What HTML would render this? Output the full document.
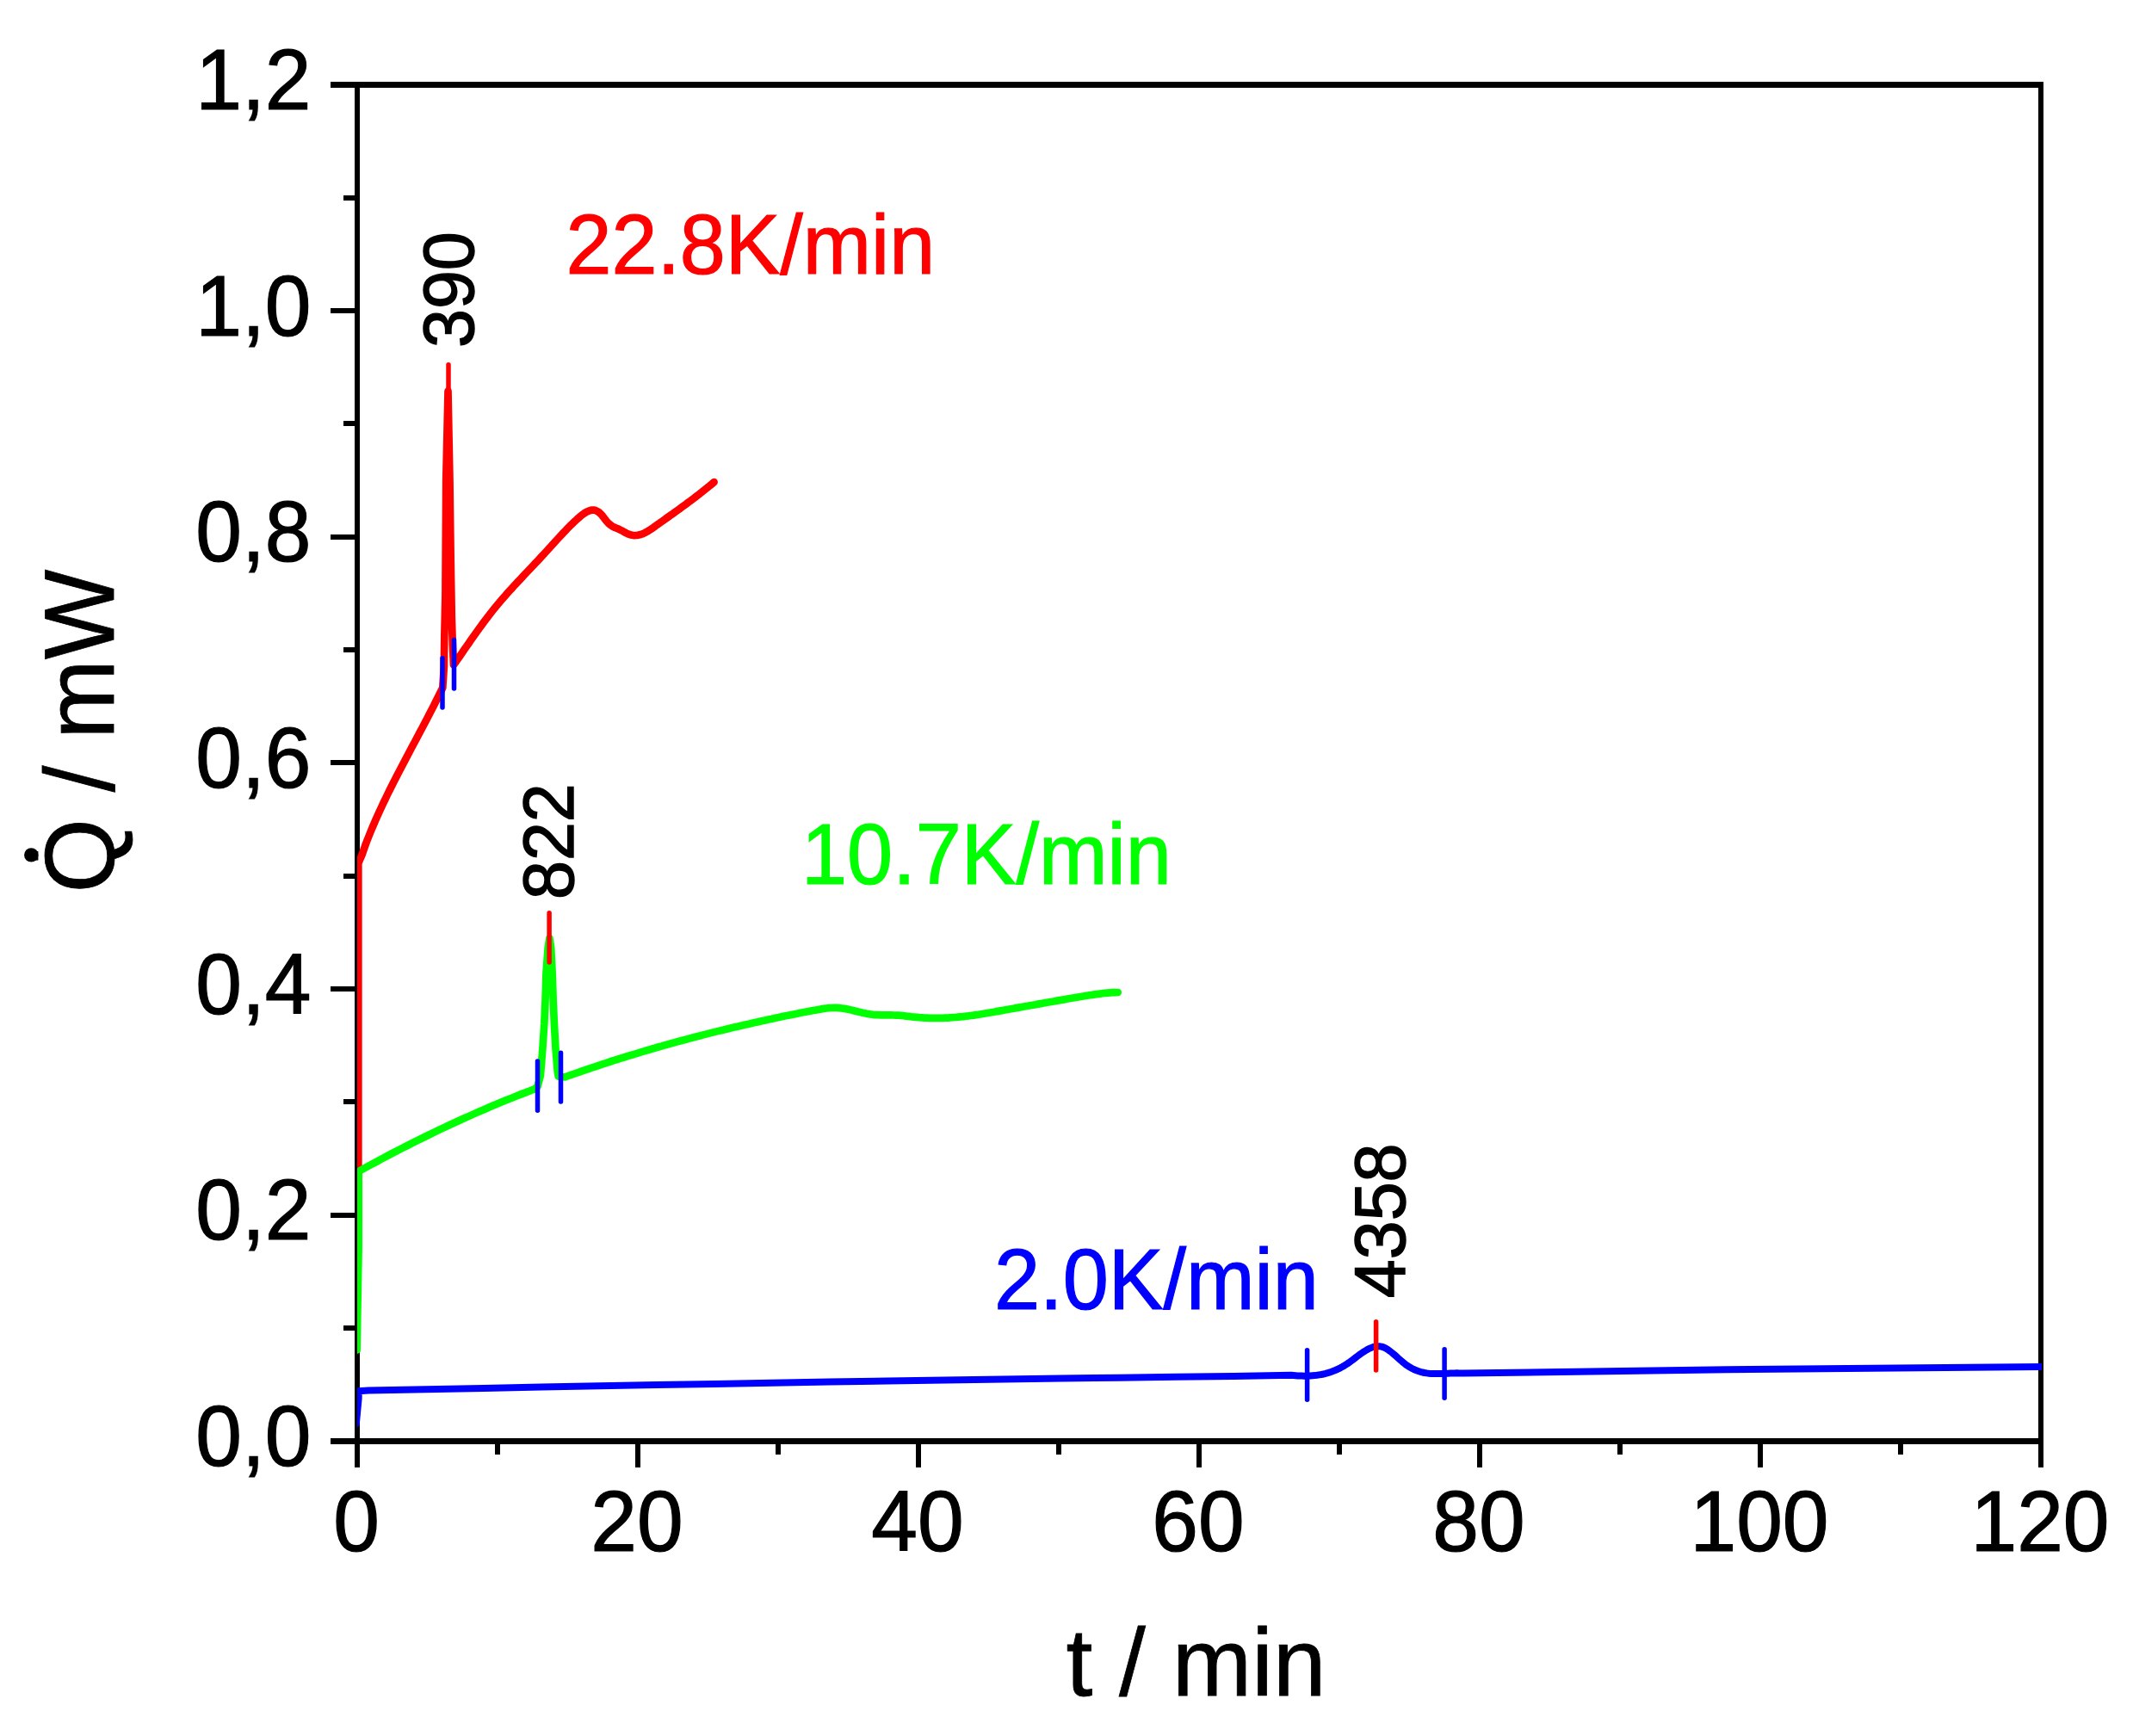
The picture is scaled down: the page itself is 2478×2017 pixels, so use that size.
<!DOCTYPE html>
<html lang="en"><head><meta charset="utf-8"><title>Heat flow vs. time at three heating rates</title>
<style>html,body{margin:0;padding:0;background:#fff;}body{width:2478px;height:2017px;overflow:hidden;}svg{display:block;}text{font-family:"Liberation Sans", Arial, Helvetica, sans-serif;}</style></head><body>
<svg width="2478" height="2017" viewBox="0 0 2478 2017">
<rect x="0" y="0" width="2478" height="2017" fill="#ffffff"/>
<defs><clipPath id="plot"><rect x="415" y="98" width="1957" height="1577"/></clipPath></defs>
<g fill="#000" shape-rendering="crispEdges">
<rect x="412" y="95" width="6" height="1610"/>
<rect x="2368" y="95" width="6" height="1610"/>
<rect x="384" y="95" width="1990" height="7"/>
<rect x="384" y="1671" width="1990" height="7"/>
<rect x="399" y="1540" width="15" height="6"/>
<rect x="384" y="1409" width="30" height="6"/>
<rect x="399" y="1277" width="15" height="6"/>
<rect x="384" y="1146" width="30" height="6"/>
<rect x="399" y="1015" width="15" height="6"/>
<rect x="384" y="883" width="30" height="6"/>
<rect x="399" y="752" width="15" height="6"/>
<rect x="384" y="621" width="30" height="6"/>
<rect x="399" y="489" width="15" height="6"/>
<rect x="384" y="358" width="30" height="6"/>
<rect x="399" y="227" width="15" height="6"/>
<rect x="575" y="1675" width="6" height="15"/>
<rect x="738" y="1675" width="6" height="30"/>
<rect x="901" y="1675" width="6" height="15"/>
<rect x="1064" y="1675" width="6" height="30"/>
<rect x="1227" y="1675" width="6" height="15"/>
<rect x="1390" y="1675" width="6" height="30"/>
<rect x="1553" y="1675" width="6" height="15"/>
<rect x="1716" y="1675" width="6" height="30"/>
<rect x="1879" y="1675" width="6" height="15"/>
<rect x="2042" y="1675" width="6" height="30"/>
<rect x="2205" y="1675" width="6" height="15"/>
</g>
<text transform="translate(361.5,1702.8) scale(1,1.03)" font-size="96.5" text-anchor="end" fill="#000" stroke="#000" stroke-width="1.2">0,0</text>
<text transform="translate(361.5,1440.1) scale(1,1.03)" font-size="96.5" text-anchor="end" fill="#000" stroke="#000" stroke-width="1.2">0,2</text>
<text transform="translate(361.5,1177.5) scale(1,1.03)" font-size="96.5" text-anchor="end" fill="#000" stroke="#000" stroke-width="1.2">0,4</text>
<text transform="translate(361.5,914.8) scale(1,1.03)" font-size="96.5" text-anchor="end" fill="#000" stroke="#000" stroke-width="1.2">0,6</text>
<text transform="translate(361.5,652.1) scale(1,1.03)" font-size="96.5" text-anchor="end" fill="#000" stroke="#000" stroke-width="1.2">0,8</text>
<text transform="translate(361.5,389.5) scale(1,1.03)" font-size="96.5" text-anchor="end" fill="#000" stroke="#000" stroke-width="1.2">1,0</text>
<text transform="translate(361.5,126.8) scale(1,1.03)" font-size="96.5" text-anchor="end" fill="#000" stroke="#000" stroke-width="1.2">1,2</text>
<text transform="translate(414.0,1802.0) scale(1,1.03)" font-size="96.5" text-anchor="middle" fill="#000" stroke="#000" stroke-width="1.2">0</text>
<text transform="translate(740.0,1802.0) scale(1,1.03)" font-size="96.5" text-anchor="middle" fill="#000" stroke="#000" stroke-width="1.2">20</text>
<text transform="translate(1066.0,1802.0) scale(1,1.03)" font-size="96.5" text-anchor="middle" fill="#000" stroke="#000" stroke-width="1.2">40</text>
<text transform="translate(1392.0,1802.0) scale(1,1.03)" font-size="96.5" text-anchor="middle" fill="#000" stroke="#000" stroke-width="1.2">60</text>
<text transform="translate(1718.0,1802.0) scale(1,1.03)" font-size="96.5" text-anchor="middle" fill="#000" stroke="#000" stroke-width="1.2">80</text>
<text transform="translate(2044.0,1802.0) scale(1,1.03)" font-size="96.5" text-anchor="middle" fill="#000" stroke="#000" stroke-width="1.2">100</text>
<text transform="translate(2370.0,1802.0) scale(1,1.03)" font-size="96.5" text-anchor="middle" fill="#000" stroke="#000" stroke-width="1.2">120</text>
<text transform="translate(1389.5,1969.6) scale(1,1.01)" font-size="111" text-anchor="middle" fill="#000" stroke="#000" stroke-width="0.8">t / min</text>
<text transform="translate(131.6,849.5) rotate(-90) scale(1,1.035)" font-size="111" text-anchor="middle" fill="#000" stroke="#000" stroke-width="0.8">Q&#775; / mW</text>
<circle cx="36.3" cy="993.4" r="8.2" fill="#000"/>
<g clip-path="url(#plot)" fill="none" stroke-linejoin="round" stroke-linecap="round">
<polyline stroke="#ff0000" stroke-width="8.7" points="416.3,1420.0 416.3,1003.0 420.4,993.5 421.8,989.5 423.2,985.5 424.6,981.5 426.1,977.5 427.7,973.5 429.3,969.5 430.9,965.5 432.6,961.5 434.3,957.5 436.0,953.5 437.8,949.5 439.6,945.5 441.4,941.5 443.3,937.5 445.1,933.5 447.1,929.5 449.0,925.5 450.9,921.5 452.9,917.5 454.9,913.5 456.9,909.5 459.0,905.5 461.0,901.5 463.1,897.5 465.2,893.5 467.3,889.5 469.4,885.5 471.5,881.5 473.6,877.5 475.7,873.5 477.8,869.5 479.9,865.5 482.1,861.5 484.2,857.5 486.3,853.5 488.4,849.5 490.6,845.5 492.7,841.5 494.8,837.5 496.9,833.5 498.9,829.5 501.0,825.5 503.1,821.5 505.1,817.5 507.1,813.5 509.1,809.5 511.1,805.5 513.1,801.5 514.3,799.0 515.9,774.0 516.3,740.8 517.4,691.0 518.2,558.0 520.5,454.5 522.5,558.0 523.7,650.0 524.8,717.0 525.8,748.0 527.0,772.5 529.5,769.1 532.0,765.5 534.5,761.9 537.0,758.2 539.5,754.6 542.0,751.0 544.5,747.4 547.0,743.8 549.5,740.2 552.0,736.7 554.5,733.2 557.0,729.7 559.5,726.3 562.0,722.9 564.5,719.6 567.0,716.3 569.5,713.1 572.0,709.9 574.5,706.8 577.0,703.8 579.5,700.8 582.0,697.8 584.5,694.9 587.0,692.1 589.5,689.2 592.0,686.4 594.5,683.7 597.0,680.9 599.5,678.2 602.0,675.5 604.5,672.9 607.0,670.2 609.5,667.6 612.0,664.9 614.5,662.3 617.0,659.6 619.5,657.0 622.0,654.3 624.5,651.7 627.0,649.0 629.5,646.3 632.0,643.6 634.5,640.9 637.0,638.1 639.5,635.4 642.0,632.6 644.5,629.8 647.0,627.1 649.5,624.4 652.0,621.7 654.5,619.0 657.0,616.4 659.5,613.8 662.0,611.2 664.5,608.8 667.0,606.4 669.5,604.1 672.0,601.8 674.5,599.7 677.0,597.7 679.5,595.9 682.0,594.5 684.5,593.4 687.0,592.7 689.5,592.6 692.0,593.1 694.5,594.3 697.0,596.2 699.5,598.8 702.0,602.1 704.5,605.4 707.0,608.1 709.5,610.2 712.0,611.8 714.5,613.0 717.0,614.0 719.5,615.1 722.0,616.3 724.5,617.7 727.0,619.1 729.5,620.3 732.0,621.2 734.5,621.8 737.0,622.1 739.5,622.0 742.0,621.6 744.5,621.0 747.0,620.1 749.5,618.9 752.0,617.5 754.5,616.0 757.0,614.3 759.5,612.6 762.0,610.8 764.5,609.0 767.0,607.2 769.5,605.5 772.0,603.7 774.5,601.9 777.0,600.1 779.5,598.3 782.0,596.6 784.5,594.8 787.0,593.0 789.5,591.2 792.0,589.3 794.5,587.5 797.0,585.7 799.5,583.8 802.0,582.0 804.5,580.1 807.0,578.2 809.5,576.3 812.0,574.4 814.5,572.4 817.0,570.4 819.5,568.4 822.0,566.4 824.5,564.4 827.0,562.3 829.5,560.2 829.6,560.1"/>
<polyline stroke="#00ff00" stroke-width="8.7" points="414.6,1568.6 416.6,1450.0 416.6,1361.0 425.3,1356.2 431.3,1353.0 437.3,1349.8 443.3,1346.5 449.3,1343.4 455.3,1340.2 461.3,1337.1 467.3,1334.0 473.3,1331.0 479.3,1327.9 485.3,1324.9 491.3,1322.0 497.3,1319.0 503.3,1316.1 509.3,1313.2 515.3,1310.4 521.3,1307.5 527.3,1304.8 533.3,1302.0 539.3,1299.3 545.3,1296.6 551.3,1293.9 557.3,1291.3 563.3,1288.7 569.3,1286.1 575.3,1283.6 581.3,1281.1 587.3,1278.6 593.3,1276.2 599.3,1273.8 605.3,1271.4 611.3,1269.1 617.3,1266.8 620.4,1265.6 624.5,1262.5 627.9,1249.6 630.3,1219.7 632.3,1189.7 633.6,1159.8 634.5,1129.8 636.6,1102.0 638.4,1090.0 640.2,1102.0 641.6,1129.8 642.6,1159.8 643.9,1189.7 645.6,1219.7 647.7,1245.0 648.7,1250.6 656.9,1251.3 660.9,1249.8 664.9,1248.4 668.9,1247.0 672.9,1245.6 676.9,1244.2 680.9,1242.8 684.9,1241.5 688.9,1240.1 692.9,1238.8 696.9,1237.5 700.9,1236.1 704.9,1234.8 708.9,1233.5 712.9,1232.2 716.9,1231.0 720.9,1229.7 724.9,1228.5 728.9,1227.2 732.9,1226.0 736.9,1224.8 740.9,1223.6 744.9,1222.4 748.9,1221.2 752.9,1220.0 756.9,1218.8 760.9,1217.7 764.9,1216.5 768.9,1215.4 772.9,1214.2 776.9,1213.1 780.9,1212.0 784.9,1210.9 788.9,1209.8 792.9,1208.7 796.9,1207.7 800.9,1206.6 804.9,1205.5 808.9,1204.5 812.9,1203.5 816.9,1202.4 820.9,1201.4 824.9,1200.4 828.9,1199.4 832.9,1198.4 836.9,1197.4 840.9,1196.5 844.9,1195.5 848.9,1194.5 852.9,1193.6 856.9,1192.7 860.9,1191.7 864.9,1190.8 868.9,1189.9 872.9,1189.0 876.9,1188.1 880.9,1187.2 884.9,1186.3 888.9,1185.4 892.9,1184.5 896.9,1183.7 900.9,1182.8 904.9,1182.0 908.9,1181.1 912.9,1180.3 916.9,1179.5 920.9,1178.7 924.9,1177.9 928.9,1177.0 932.9,1176.3 936.9,1175.5 940.9,1174.7 944.9,1173.9 947.9,1173.6 950.9,1173.0 953.9,1172.4 956.9,1171.9 959.9,1171.5 962.9,1171.2 965.9,1171.0 968.9,1170.9 971.9,1170.9 974.9,1171.1 977.9,1171.5 980.9,1171.9 983.9,1172.4 986.9,1173.1 989.9,1173.7 992.9,1174.5 995.9,1175.2 998.9,1175.9 1001.9,1176.7 1004.9,1177.3 1007.9,1177.9 1010.9,1178.4 1013.9,1178.8 1016.9,1179.1 1019.9,1179.2 1022.9,1179.3 1025.9,1179.4 1028.9,1179.4 1031.9,1179.4 1034.9,1179.4 1037.9,1179.5 1040.9,1179.6 1043.9,1179.7 1046.9,1179.9 1049.9,1180.2 1052.9,1180.6 1055.9,1180.9 1058.9,1181.3 1061.9,1181.6 1064.9,1181.9 1067.9,1182.2 1070.9,1182.4 1073.9,1182.6 1076.9,1182.7 1079.9,1182.8 1082.9,1182.9 1085.9,1182.9 1088.9,1182.9 1091.9,1182.9 1094.9,1182.8 1097.9,1182.7 1100.9,1182.6 1103.9,1182.4 1106.9,1182.2 1109.9,1182.0 1112.9,1181.7 1115.9,1181.4 1118.9,1181.1 1121.9,1180.7 1124.9,1180.4 1127.9,1180.0 1130.9,1179.6 1133.9,1179.1 1136.9,1178.7 1139.9,1178.2 1142.9,1177.7 1145.9,1177.2 1148.9,1176.7 1151.9,1176.2 1154.9,1175.7 1157.9,1175.1 1160.9,1174.6 1163.9,1174.1 1166.9,1173.6 1169.9,1173.0 1172.9,1172.5 1175.9,1172.0 1178.9,1171.4 1181.9,1170.9 1184.9,1170.4 1187.9,1169.8 1190.9,1169.3 1193.9,1168.8 1196.9,1168.2 1199.9,1167.7 1202.9,1167.2 1205.9,1166.6 1208.9,1166.1 1211.9,1165.6 1214.9,1165.0 1217.9,1164.5 1220.9,1164.0 1223.9,1163.5 1226.9,1162.9 1229.9,1162.4 1232.9,1161.9 1235.9,1161.4 1238.9,1160.8 1241.9,1160.3 1244.9,1159.8 1247.9,1159.3 1250.9,1158.8 1253.9,1158.3 1256.9,1157.8 1259.9,1157.3 1262.9,1156.8 1265.9,1156.3 1268.9,1155.9 1271.9,1155.4 1274.9,1155.0 1277.9,1154.6 1280.9,1154.2 1283.9,1153.9 1286.9,1153.6 1289.9,1153.3 1292.9,1153.2 1295.9,1153.1 1298.7,1153.0"/>
<polyline stroke="#0000ff" stroke-width="8" points="413.8,1654.5 416.6,1625.0 416.8,1616.3 428.0,1615.6 495.0,1614.3 562.0,1612.9 629.0,1611.6 696.0,1610.3 763.0,1609.1 830.0,1607.9 897.0,1606.7 964.0,1605.6 1031.0,1604.6 1098.0,1603.5 1165.0,1602.5 1232.0,1601.6 1299.0,1600.7 1366.0,1599.8 1433.0,1599.0 1500.0,1597.8 1502.5,1598.0 1505.0,1598.2 1507.5,1598.4 1510.0,1598.5 1512.5,1598.6 1515.0,1598.7 1517.5,1598.7 1520.0,1598.6 1522.5,1598.5 1525.0,1598.3 1527.5,1598.1 1530.0,1597.8 1532.5,1597.4 1535.0,1597.0 1537.5,1596.5 1540.0,1595.9 1542.5,1595.2 1545.0,1594.4 1547.5,1593.5 1550.0,1592.6 1552.5,1591.5 1555.0,1590.4 1557.5,1589.1 1560.0,1587.7 1562.5,1586.2 1565.0,1584.6 1567.5,1582.9 1570.0,1581.1 1572.5,1579.2 1575.0,1577.3 1577.5,1575.4 1580.0,1573.5 1582.5,1571.8 1585.0,1570.1 1587.5,1568.6 1590.0,1567.2 1592.5,1566.1 1595.0,1565.1 1597.5,1564.5 1600.0,1564.2 1602.5,1564.2 1605.0,1564.6 1607.5,1565.4 1610.0,1566.6 1612.5,1568.2 1615.0,1570.0 1617.5,1572.0 1620.0,1574.1 1622.5,1576.3 1625.0,1578.6 1627.5,1580.8 1630.0,1582.9 1632.5,1584.9 1635.0,1586.7 1637.5,1588.3 1640.0,1589.7 1642.5,1591.0 1645.0,1592.1 1647.5,1593.0 1650.0,1593.8 1652.5,1594.5 1655.0,1595.0 1657.5,1595.4 1660.0,1595.7 1662.5,1595.9 1665.0,1596.1 1667.5,1596.1 1670.0,1596.1 1672.5,1596.1 1675.0,1596.0 1677.5,1595.9 1680.0,1595.8 1682.5,1595.7 1685.0,1595.5 1687.5,1595.4 1690.0,1595.4 1692.5,1595.3 1695.0,1595.4 1697.5,1595.5 1700.0,1595.6 2007.0,1591.2 2375.0,1588.0"/>
</g>
<g stroke-width="5.5" stroke-linecap="round">
<line x1="514.0" y1="764.8" x2="514.0" y2="822.1" stroke="#0000ff"/>
<line x1="527.5" y1="743.5" x2="527.5" y2="800.1" stroke="#0000ff"/>
<line x1="521.0" y1="423.8" x2="521.0" y2="479.8" stroke="#ff0000"/>
<line x1="624.5" y1="1233.0" x2="624.5" y2="1290.2" stroke="#0000ff"/>
<line x1="651.5" y1="1223.2" x2="651.5" y2="1280.0" stroke="#0000ff"/>
<line x1="638.1" y1="1060.8" x2="638.1" y2="1118.0" stroke="#ff0000"/>
<line x1="1518.6" y1="1568.8" x2="1518.6" y2="1626.2" stroke="#0000ff"/>
<line x1="1678.1" y1="1567.8" x2="1678.1" y2="1624.2" stroke="#0000ff"/>
<line x1="1598.6" y1="1535.7" x2="1598.6" y2="1592.0" stroke="#ff0000"/>
</g>
<text transform="translate(657.5,317.6) scale(1,1.04)" font-size="95.2" text-anchor="start" fill="#ff0000" stroke="#ff0000" stroke-width="1.2">22.8K/min</text>
<text transform="translate(931.0,1026.8) scale(1,1.04)" font-size="95.5" text-anchor="start" fill="#00ff00" stroke="#00ff00" stroke-width="1.2">10.7K/min</text>
<text transform="translate(1155.0,1520.8) scale(1,1.04)" font-size="95.5" text-anchor="start" fill="#0000ff" stroke="#0000ff" stroke-width="1.2">2.0K/min</text>
<text transform="translate(549.5,404.0) rotate(-90) scale(1,1.03)" font-size="80.8" text-anchor="start" fill="#000" stroke="#000" stroke-width="1.4">390</text>
<text transform="translate(666.2,1045.0) rotate(-90) scale(1,1.03)" font-size="80.8" text-anchor="start" fill="#000" stroke="#000" stroke-width="1.4">822</text>
<text transform="translate(1631.8,1508.2) rotate(-90) scale(1,1.03)" font-size="80.8" text-anchor="start" fill="#000" stroke="#000" stroke-width="1.4">4358</text>
</svg></body></html>
